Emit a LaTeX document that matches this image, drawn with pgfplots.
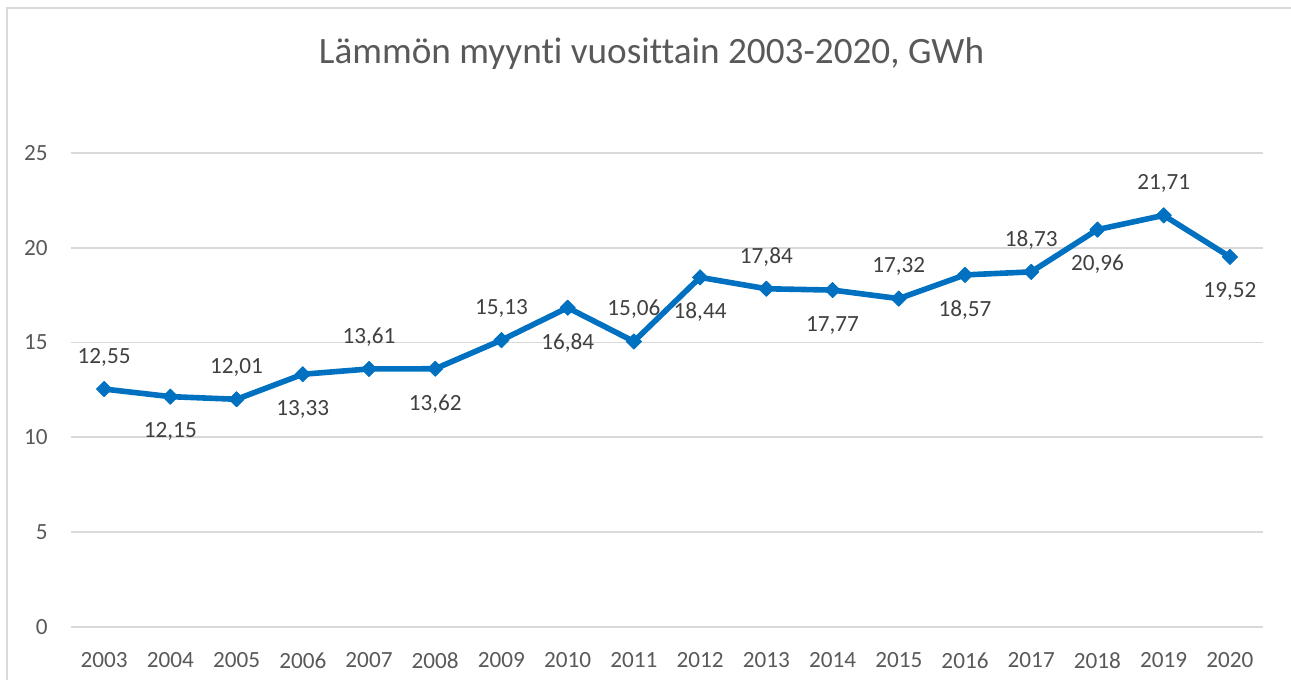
\documentclass[border=0pt]{standalone}
\usepackage{pgfplots}
\pgfplotsset{compat=1.18}
\usepackage{fontspec}
\setmainfont[Ligatures=NoCommon]{Carlito}
\definecolor{lineblue}{HTML}{0070C0}
\definecolor{ticktext}{HTML}{595959}
\definecolor{labeltext}{HTML}{404040}
\definecolor{gridgray}{HTML}{D9D9D9}

% year index, value, label offset (px, + above / - below)
\pgfplotstableread{
x y dy
0 12.55 32
1 12.15 -35
2 12.01 32
3 13.33 -35
4 13.61 32
5 13.62 -35
6 15.13 32
7 16.84 -35
8 15.06 32
9 18.44 -35
10 17.84 32
11 17.77 -35
12 17.32 32
13 18.57 -35
14 18.73 32
15 20.96 -35
16 21.71 32
17 19.52 -35
}\heatsales

\begin{document}
\begin{tikzpicture}[x=0.5pt,y=0.5pt]
\useasboundingbox (0,0) rectangle (1291,680);
% chart frame (cropped on right and bottom)
\draw[gridgray, line width=1pt] (7,-10) -- (7,672) -- (1300,672);
\node[anchor=base, text=ticktext, font=\fontsize{18.6}{22}\selectfont] at (651.5,616)
  {Lämmön myynti vuosittain 2003-2020, GWh};
\begin{axis}[
  at={(35.5pt,26.5pt)}, anchor=south west,
  width=596pt, height=237pt, scale only axis,
  xmin=-0.5, xmax=17.5, ymin=0, ymax=25,
  xtick={0,...,17},
  xticklabels={2003,2004,2005,2006,2007,2008,2009,2010,2011,2012,2013,2014,2015,2016,2017,2018,2019,2020},
  ytick={0,5,10,15,20,25},
  ymajorgrids, grid style={gridgray, line width=0.9pt},
  axis line style={draw=none},
  major tick length=0pt,
  tick label style={text=ticktext, font=\fontsize{11.6}{14}\selectfont, inner sep=0pt},
  xticklabel style={anchor=north, yshift=-12.5pt},
  yticklabel style={anchor=east, xshift=-11.5pt},
  /pgf/number format/assume math mode=true,
  clip=false,
]
\addplot[lineblue, line width=2.8pt, line join=round,
  mark=square*, mark size=2.7pt, mark options={rotate=45, solid, line width=0.4pt},
  visualization depends on={\thisrow{dy} \as \labeldy},
  nodes near coords={\pgfmathprintnumber[fixed, fixed zerofill, precision=2, use comma, assume math mode=true]{\pgfplotspointmeta}},
  every node near coord/.append style={anchor=center, inner sep=0pt, yshift=0.5*\labeldy pt,
    text=labeltext, font=\fontsize{11.6}{14}\selectfont},
] table[x=x, y=y] {\heatsales};
\end{axis}
\end{tikzpicture}
\end{document}
